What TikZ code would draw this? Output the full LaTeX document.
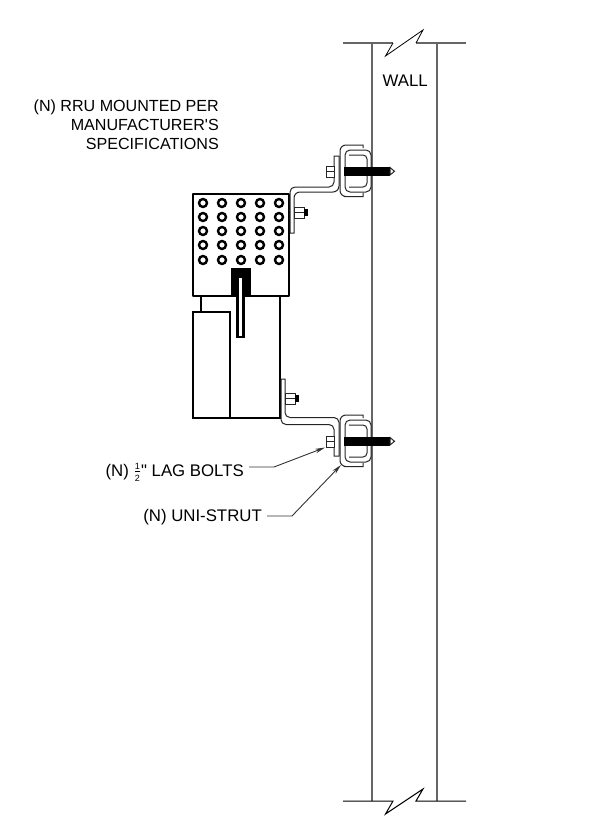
\documentclass[tikz,border=0pt]{standalone}
\usepackage{fontspec}
\setmainfont{Liberation Sans}
\newfontfamily\labelfont{Liberation Sans}
\usetikzlibrary{positioning,arrows.meta}

\begin{document}
\begin{tikzpicture}[
                x=1pt,y=-1pt,
                wall/.style={draw=black!60,line width=1.2pt},
                breakline/.style={draw=black,line width=.8pt,line join=miter},
                heavy/.style={draw=black,line width=2.6pt},
                thin line/.style={draw=black!85,line width=1pt},
                callout/.style={font=\labelfont\fontsize{16.1}{16.1}\selectfont,inner sep=0pt,anchor=base east},
                bigcallout/.style={callout,font=\labelfont\fontsize{16.8}{16.8}\selectfont},
                leader/.style={draw=black!80,line width=.9pt,-{Stealth[length=10pt,width=4.5pt]}}
            ]
                \useasboundingbox (0,0) rectangle (602,822);

                \draw[wall] (372,43) -- (372,801);
                \draw[wall] (437,43) -- (437,801);
                \draw[wall] (343,43) -- (393,43);
                \draw[wall] (416,43) -- (466,43);
                \draw[breakline] (393,43) -- (385.5,56) -- (423,30) -- (416,43);
                \draw[breakline,line width=1pt] (343,801) -- (393,801) -- (385.5,814) -- (423,789) -- (416,801) -- (466,801);

                \node[bigcallout] (wall) at (428,86) {WALL};
                \node[callout] (rru1) at (219,111) {(N) RRU MOUNTED PER};
                \node[callout] (rru2) at (219,130) {MANUFACTURER'S};
                \node[callout] (rru3) at (219,149) {SPECIFICATIONS};
                \node[bigcallout] (lag) at (244,476) {(N) $\frac{\mbox{\fontsize{9}{9}\selectfont 1}}{\mbox{\fontsize{9}{9}\selectfont 2}}$" LAG BOLTS};
                \node[bigcallout] (strut) at (262,521) {(N) UNI-STRUT};

                % rru body
                \draw[heavy,line join=round] (193,194) rectangle (289,296);
                \foreach \cx in {203,222,241,260,279}
                    \foreach \cy in {203,217,231,245,260}
                        \draw[black,line width=2.4pt] (\cx,\cy) circle (4);
                \fill[black] (231,268) rectangle (251,296);
                \draw[heavy,fill=white] (237.5,278) -- (237.5,337) -- (243.5,337) -- (243.5,278);
                \draw[heavy] (201,296) -- (201,312);
                \draw[heavy] (280,296) -- (280,418) -- (193,418);
                \draw[heavy] (193,312) rectangle (230,418);

                % brackets
                \draw[thin line,fill=white,rounded corners=5pt] (290,233) -- (290,187) -- (334,187) -- (334,170) [sharp corners] -- (334,156) -- (339,156) -- (339,170) [rounded corners=6pt] -- (339,192) -- (294,192) -- (294,210) [sharp corners] -- (294,233) -- cycle;
                \draw[thin line,fill=white,sharp corners] (281,379) -- (285,379) -- (285,400) [rounded corners=5pt] -- (285,417.5) -- (339,417.5) -- (339,440) [sharp corners] -- (339,456) -- (334,456) -- (334,440) [rounded corners=5pt] -- (334,424.5) -- (281,424.5) -- (281,400) [sharp corners] -- cycle;

                % clamps
                \foreach \dy in {0,270} {
                    \begin{scope}[shift={(0,\dy)}]
                        \draw[thin line,rounded corners=6pt] (363,148) [sharp corners] -- (363,145) -- (350,145) [rounded corners=6pt] -- (340,145) -- (340,196.5) -- (350,196.5) [sharp corners] -- (363,196.5) -- (363,193);
                        \draw[thin line,rounded corners=5pt] (363,150) -- (345,150) -- (345,192) -- (371,192) -- (371,150) -- (360,150);
                        \draw[thin line,rounded corners=4pt] (349,155) -- (367,155) -- (367,187) -- (349,187);
                        \fill[black] (344,167) rectangle (390,175.5);
                        \draw[thin line,fill=white] (390,167.5) -- (394.5,171.3) -- (390,175) -- cycle;
                    \end{scope}
                }

                % bolts
                \foreach \bx/\by in {326/166,326/436} {
                    \draw[thin line,fill=white] (\bx,\by) rectangle ++(8,11);
                    \draw[thin line] (\bx,\by+5.5) -- ++(8,0);
                }
                \foreach \bx/\by in {294/207,285/393} {
                    \draw[thin line,fill=white] (\bx,\by) rectangle ++(10,11);
                    \draw[thin line] (\bx,\by+5.5) -- ++(10,0);
                    \fill[black] (\bx+10,\by+2) rectangle ++(3.5,7);
                }

                \coordinate (lagtip) at (325,447.5);
                \coordinate (struttip) at (341,465);
                \draw[leader] (lag.base east) ++(5,-9) -- ++(25,0) -- (lagtip);
                \draw[leader] (strut.base east) ++(5,-5) -- ++(25,0) -- (struttip);
            \end{tikzpicture}
\end{document}
